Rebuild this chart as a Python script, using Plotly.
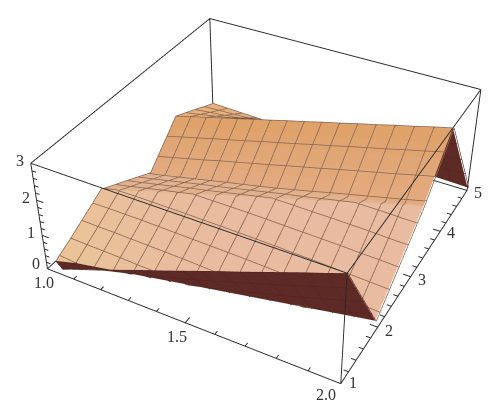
import numpy as np
import plotly.graph_objects as go

x_vals = [1 + k / 16 for k in range(17)]
y_vals = [1 + k / 4 for k in range(17)]
# z; one list per x column, values along y
z_by_x = [
    [0.00,0.07,0.25,0.46,0.66,0.79,0.60,0.42,0.23,0.04,0.29,0.64,1.00,0.84,0.68,0.51,0.35],
    [0.19,0.03,0.24,0.45,0.67,0.88,0.71,0.52,0.33,0.14,0.41,0.77,1.13,0.93,0.73,0.53,0.334],
    [0.38,0.09,0.23,0.45,0.67,0.89,0.82,0.63,0.44,0.25,0.53,0.89,1.25,1.02,0.78,0.55,0.319],
    [0.56,0.19,0.22,0.44,0.67,0.89,0.93,0.74,0.55,0.36,0.65,1.02,1.38,1.11,0.84,0.57,0.303],
    [0.75,0.31,0.20,0.43,0.66,0.89,1.03,0.85,0.66,0.47,0.78,1.14,1.50,1.20,0.89,0.59,0.288],
    [0.94,0.44,0.19,0.42,0.65,0.89,1.12,0.95,0.76,0.58,0.90,1.26,1.63,1.29,0.95,0.61,0.272],
    [1.13,0.59,0.17,0.41,0.64,0.88,1.12,1.06,0.87,0.68,1.02,1.39,1.75,1.38,1.00,0.63,0.256],
    [1.31,0.74,0.17,0.39,0.63,0.88,1.12,1.17,0.98,0.79,1.14,1.51,1.88,1.47,1.06,0.65,0.241],
    [1.50,0.90,0.30,0.37,0.62,0.87,1.12,1.28,1.09,0.90,1.27,1.63,2.00,1.56,1.11,0.67,0.225],
    [1.69,1.06,0.43,0.35,0.61,0.86,1.11,1.36,1.20,1.02,1.39,1.76,2.13,1.65,1.17,0.69,0.209],
    [1.88,1.23,0.58,0.33,0.59,0.85,1.10,1.36,1.30,1.14,1.51,1.88,2.25,1.74,1.22,0.71,0.194],
    [2.06,1.39,0.73,0.31,0.57,0.83,1.09,1.35,1.41,1.27,1.64,2.01,2.38,1.83,1.28,0.73,0.178],
    [2.25,1.56,0.88,0.29,0.55,0.82,1.08,1.35,1.52,1.39,1.76,2.13,2.50,1.92,1.33,0.74,0.163],
    [2.44,1.74,1.04,0.34,0.53,0.80,1.07,1.34,1.60,1.51,1.88,2.25,2.63,2.01,1.39,0.77,0.147],
    [2.63,1.91,1.20,0.48,0.51,0.78,1.05,1.33,1.60,1.63,2.00,2.38,2.75,2.10,1.44,0.79,0.131],
    [2.81,2.09,1.36,0.64,0.49,0.76,1.04,1.31,1.59,1.75,2.13,2.50,2.88,2.19,1.50,0.81,0.116],
    [3.00,2.26,1.53,0.79,0.46,0.74,1.02,1.30,1.58,1.88,2.25,2.63,3.00,2.28,1.55,0.83,0.10],
]
# crease lines of the sheet, one value per x column
y_start = [1.17] + [1] * 16
valley_a_y = [1.17,1.2438,1.2875,1.3313,1.375,1.4188,1.4625,1.5063,1.55,1.5938,1.6375,1.6813,1.725,1.7688,1.8125,1.8563,1.9]
valley_a_z = [0,.022,.044,.066,.0875,.109,.131,.153,.175,.197,.219,.241,.2625,.284,.306,.328,.35]
ridge_y = [2.2,2.2625,2.325,2.3875,2.45,2.5125,2.575,2.6375,2.7,2.7625,2.825,2.8875,2.95,3.0125,3.075,3.1375,3.2]
ridge_z = [.83,.891,.951,1.012,1.0725,1.133,1.194,1.254,1.315,1.376,1.436,1.497,1.5575,1.618,1.679,1.739,1.8]
valley_b_y = [3.3,3.294,3.2875,3.281,3.275,3.269,3.2625,3.256,3.25,3.244,3.2375,3.231,3.225,3.219,3.2125,3.206,3.2]
valley_b_z = [0,.1125,.225,.3375,.45,.5625,.675,.7875,.9,1.0125,1.125,1.2375,1.35,1.4625,1.575,1.6875,1.8]

x_major = [1.0, 1.5, 2.0]
x_major_labels = ["1.0", "1.5", "2.0"]
y_major = [1, 2, 3, 4, 5]
z_major = [0, 1, 2, 3]
x_ticks = [1 + k / 10 for k in range(11)]
y_ticks = [1 + k / 5 for k in range(21)]
z_ticks = [k / 5 for k in range(16)]

EYE = (1.3, -2.4, 2.0)
ASPECT = (1.04, 1.04, 0.416)
W, H = 1000, 896
LEFT, TOP = -233, -270

Z = np.array(z_by_x)
nx, ny = Z.shape
xa = np.array(x_vals)
eye = np.array(EYE)


def scaled(p):
    return np.array([p[0] - 1.5, (p[1] - 3) / 4, (p[2] - 1.5) / 3 * 0.4])


def back_facing(p, q, r):
    a, b, c = scaled(p), scaled(q), scaled(r)
    n = np.cross(b - a, c - a)
    if n[2] < 0:
        n = -n
    return np.dot(n, eye - (a + b + c) / 3) <= 0


keys = np.stack([
    np.stack([np.array(y_start, float), Z[:, 0]], 1),
    np.stack([np.array(valley_a_y), np.array(valley_a_z)], 1),
    np.stack([np.array(ridge_y), np.array(ridge_z)], 1),
    np.stack([np.array(valley_b_y), np.array(valley_b_z)], 1),
    np.stack([np.full(nx, 4.0), Z[:, 12]], 1),
    np.stack([np.full(nx, 5.0), Z[:, 16]], 1),
], 0)  # band line, column, (y, z)

PINK = np.array([233, 187, 160.0])
TAN = np.array([235, 197, 152.0])
CREST = np.array([226, 178, 142.0])
OR_LOW = np.array([228, 172, 130.0])
OR_HIGH = np.array([223, 161, 105.0])
BACK = np.array([230, 178, 124.0])
DARK = np.array([94, 42, 38.0])
SUBS = [1, 4, 1, 5, 1]


def band_colour(band, f, t, tri):
    if band == 0 or back_facing(*tri):
        return DARK
    if band == 1:
        w = np.clip(1 - t * 2.6, 0, 1) * (1 - 0.5 * f)
        return PINK * (1 - w) + TAN * w
    if band == 2:
        return CREST
    if band == 3:
        return OR_LOW * (1 - f) + OR_HIGH * f
    if band == 4:
        return BACK
    return PINK


vx, vy, vz, I, J, K, FC = [], [], [], [], [], [], []


def vertex(line, col, f):
    lo, hi = keys[line, col], keys[line + 1, col]
    q = lo * (1 - f) + hi * f
    return np.array([xa[col], q[0], q[1]])


for a in range(nx - 1):
    for band in range(5):
        n = SUBS[band]
        for s in range(n):
            f0, f1 = s / n, (s + 1) / n
            p00, p10 = vertex(band, a, f0), vertex(band, a + 1, f0)
            p01, p11 = vertex(band, a, f1), vertex(band, a + 1, f1)
            for tri in ((p00, p10, p11), (p00, p11, p01)):
                if np.linalg.norm(np.cross(tri[1] - tri[0], tri[2] - tri[0])) < 1e-9:
                    continue
                base = len(vx)
                for v in tri:
                    vx.append(v[0]); vy.append(v[1]); vz.append(v[2])
                I.append(base); J.append(base + 1); K.append(base + 2)
                c = band_colour(band, (f0 + f1) / 2, a / 16, tri)
                FC.append("rgb(%d,%d,%d)" % tuple(c))

fig = go.Figure()
fig.add_trace(go.Mesh3d(
    x=vx, y=vy, z=vz, i=I, j=J, k=K, facecolor=FC,
    flatshading=True, hoverinfo="skip",
    lighting=dict(ambient=1, diffuse=0, specular=0, roughness=1, fresnel=0),
))


def seg_dark(col, y_mid):
    col = min(max(col, 0), nx - 2)
    if y_mid < (keys[1, col, 0] + keys[1, col + 1, 0]) / 2:
        return True
    if y_mid > 4:
        tri = (vertex(4, col, 0), vertex(4, col + 1, 0), vertex(4, col + 1, 1))
        return back_facing(*tri)
    return False


dv = np.array([0.006, -0.028, 0.045])
light, dark = ([], [], []), ([], [], [])


def add_polyline(pts, col_of):
    for p, q in zip(pts[:-1], pts[1:]):
        m = (p + q) / 2
        tgt = dark if seg_dark(col_of(m), m[1]) else light
        for arr, i in zip(tgt, range(3)):
            arr += [p[i] + dv[i], q[i] + dv[i], None]


# constant-x mesh lines run through the table and the creases of that column
for a in range(nx):
    nodes = [(y_vals[b], Z[a, b]) for b in range(ny) if y_vals[b] >= keys[0, a, 0]]
    nodes += [(keys[l, a, 0], keys[l, a, 1]) for l in (1, 2, 3)]
    nodes = sorted(set(nodes))
    pts = [np.array([xa[a], y, z]) for y, z in nodes]
    add_polyline(pts, lambda m, a=a: a if a < nx - 1 else a - 1)

# constant-y mesh lines, broken where they cross a crease
for b in range(ny):
    c = y_vals[b]
    if c < keys[0, 0, 0]:
        pts = [np.array([xa[0], keys[0, 0, 0], keys[0, 0, 1]])]
    else:
        pts = [np.array([xa[0], c, Z[0, b]])]
    for a in range(nx - 1):
        cross = []
        for l in (1, 2, 3):
            ya, yb = keys[l, a, 0], keys[l, a + 1, 0]
            if (ya - c) * (yb - c) < 0:
                f = (c - ya) / (yb - ya)
                cross.append((f, np.array([xa[a] + f / 16, c, keys[l, a, 1] + f * (keys[l, a + 1, 1] - keys[l, a, 1])])))
        for f, p in sorted(cross, key=lambda e: e[0]):
            pts.append(p)
        pts.append(np.array([xa[a + 1], c, Z[a + 1, b]]))
    add_polyline(pts, lambda m: int((m[0] - 1) * 16))

fig.add_trace(go.Scatter3d(x=light[0], y=light[1], z=light[2], mode="lines", hoverinfo="skip",
                           line=dict(color="rgb(140,105,85)", width=1.6)))
fig.add_trace(go.Scatter3d(x=dark[0], y=dark[1], z=dark[2], mode="lines", hoverinfo="skip",
                           line=dict(color="rgb(80,38,34)", width=1.2)))

# box
bx, by, bz = [], [], []
xs, ys, zs = (1, 2), (1, 5), (0, 3)
for y0 in ys:
    for z0 in zs:
        bx += [1, 2, None]; by += [y0, y0, None]; bz += [z0, z0, None]
for x0 in xs:
    for z0 in zs:
        bx += [x0, x0, None]; by += [1, 5, None]; bz += [z0, z0, None]
for x0 in xs:
    for y0 in ys:
        bx += [x0, x0, None]; by += [y0, y0, None]; bz += [0, 3, None]
# ticks
for t in x_ticks:
    L = 0.10 if t in x_major else 0.06
    bx += [t, t, None]; by += [1, 1 + L, None]; bz += [0, 0, None]
for t in y_ticks:
    L = 0.025 if float(t).is_integer() else 0.015
    bx += [2, 2 - L, None]; by += [t, t, None]; bz += [0, 0, None]
for t in z_ticks:
    L = 0.025 if float(t).is_integer() else 0.015
    bx += [1, 1 + L, None]; by += [1, 1, None]; bz += [t, t, None]
fig.add_trace(go.Scatter3d(x=bx, y=by, z=bz, mode="lines", hoverinfo="skip",
                           line=dict(color="rgb(40,40,40)", width=1.9)))

font = dict(family="Liberation Serif", size=16, color="#333333")
ann = []
for v, s, dx, dy in zip(x_major, x_major_labels, [-3, -8, -15], [-14, -14, -11]):
    ann.append(dict(x=v, y=1, z=0, text=s, showarrow=False, font=font, xshift=dx, yshift=dy))
for v, dx, dy in zip(y_major, [12, 11, 11, 11, 11], [1, -3, -3, -1, -2]):
    ann.append(dict(x=2, y=v, z=0, text=str(v), showarrow=False, font=font, xshift=dx, yshift=dy))
for v, dx, dy in zip(z_major, [-11, -11, -11, -11], [5, 3, 3, 3]):
    ann.append(dict(x=1, y=1, z=v, text=str(v), showarrow=False, font=font, xshift=dx, yshift=dy))

ax = dict(visible=False, showgrid=False, zeroline=False, showbackground=False)
fig.update_layout(
    width=W, height=H, margin=dict(l=0, r=0, t=0, b=0), showlegend=False,
    paper_bgcolor="white",
    scene=dict(
        xaxis=dict(ax, range=[0.98, 2.02]), yaxis=dict(ax, range=[0.92, 5.08]), zaxis=dict(ax, range=[-0.06, 3.06]),
        aspectmode="manual", aspectratio=dict(x=ASPECT[0], y=ASPECT[1], z=ASPECT[2]),
        camera=dict(eye=dict(x=EYE[0], y=EYE[1], z=EYE[2]), up=dict(x=0, y=0, z=1),
                    center=dict(x=0, y=0, z=0), projection=dict(type="perspective")),
        annotations=ann, bgcolor="white",
    ),
)

post = (
    "var d=document.getElementById('{plot_id}');"
    "d.style.position='absolute';d.style.left='%dpx';d.style.top='%dpx';"
    "document.documentElement.style.overflow='hidden';document.body.style.overflow='hidden';" % (LEFT, TOP)
)
fig.write_html("out.html", post_script=post, config=dict(displayModeBar=False))
